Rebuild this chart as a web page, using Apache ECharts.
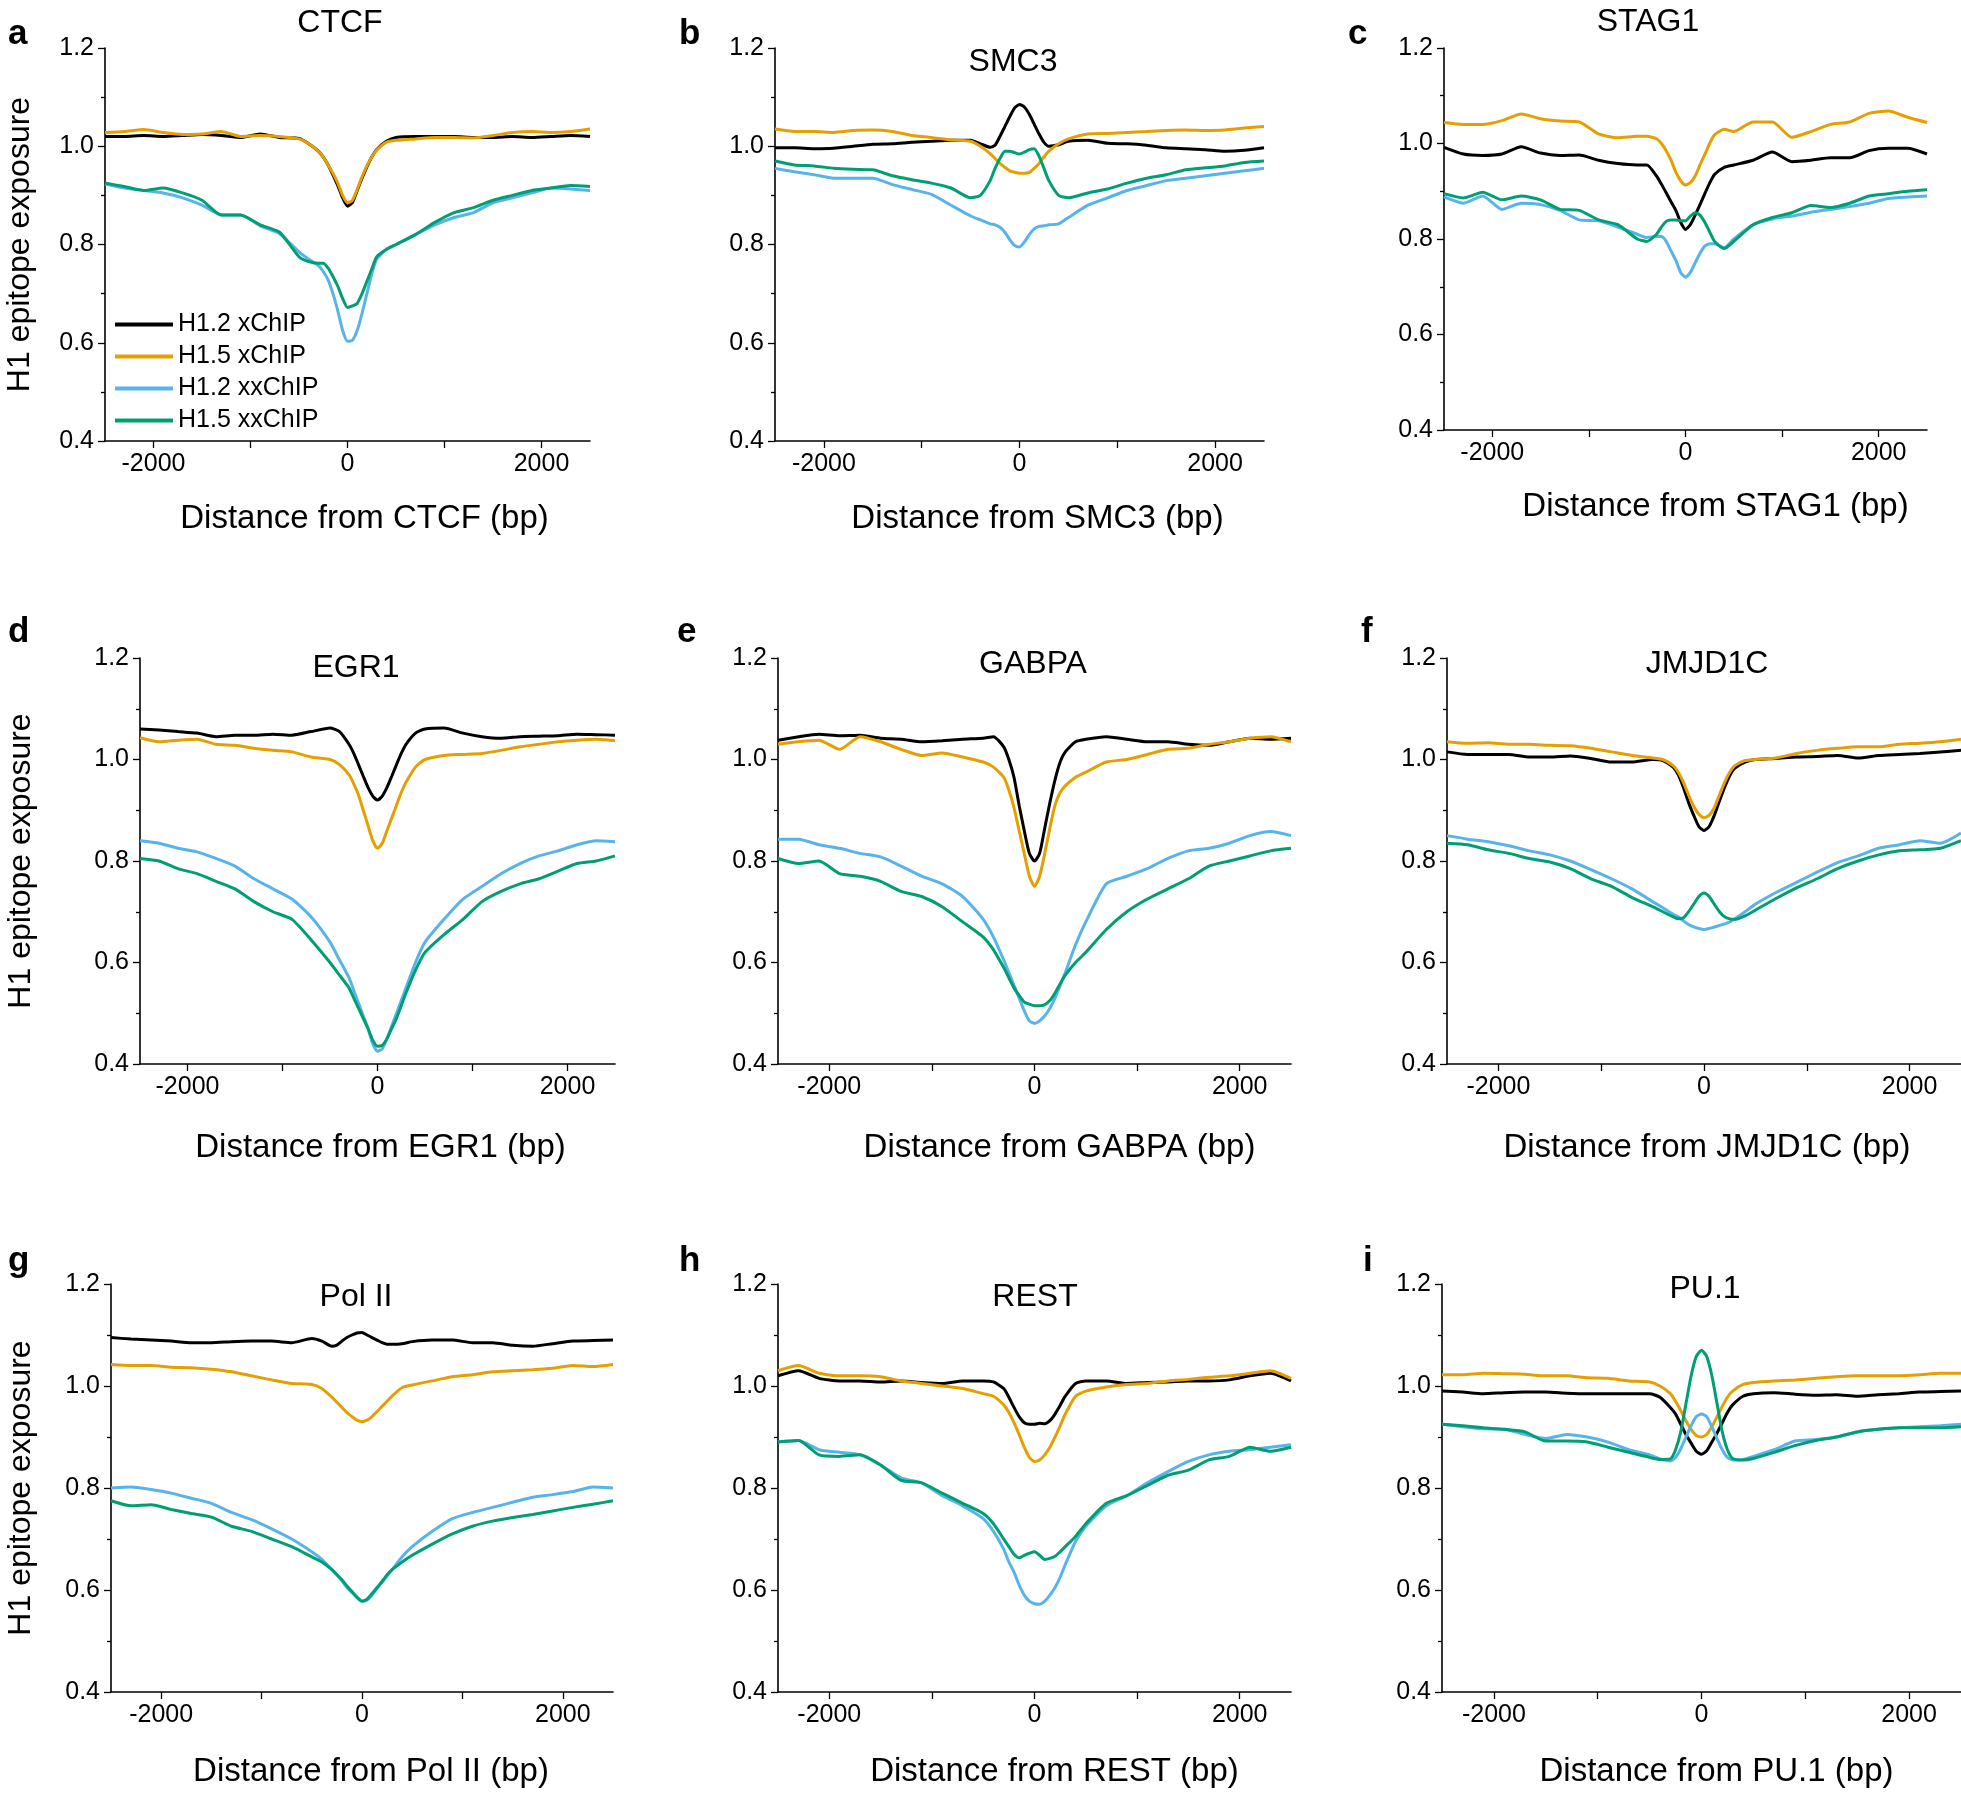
<!DOCTYPE html>
<html><head><meta charset="utf-8">
<script src="https://cdn.jsdelivr.net/npm/echarts@6/dist/echarts.min.js"></script>
<style>html,body{margin:0;padding:0;background:#fff}#c{width:1961px;height:1795px}</style>
</head><body><div id="c"></div>
<script>
// ---------- DATA ----------
const distance = [-2500,-2300,-2100,-1900,-1700,-1500,-1300,-1100,-900,-700,-500,-400,-300,-250,-200,-150,-100,-50,0,50,100,150,200,250,300,400,500,700,900,1100,1300,1500,1700,1900,2100,2300,2500];
const seriesNames = ['H1.2 xChIP','H1.5 xChIP','H1.2 xxChIP','H1.5 xxChIP'];
const xTickLabels = [-2000, 0, 2000];
const xTickMarks = [-2000, -1000, 0, 1000, 2000];
const factors = ['CTCF','SMC3','STAG1','EGR1','GABPA','JMJD1C','Pol II','REST','PU.1'];
const panelLetters = ['a','b','c','d','e','f','g','h','i'];

const ctcf_h12x  = [1.020,1.020,1.022,1.020,1.022,1.024,1.022,1.018,1.025,1.018,1.016,1.005,0.990,0.978,0.962,0.942,0.920,0.895,0.878,0.885,0.910,0.935,0.958,0.978,0.993,1.010,1.018,1.020,1.020,1.020,1.018,1.018,1.020,1.018,1.020,1.022,1.020];
const ctcf_h15x  = [1.028,1.030,1.034,1.028,1.024,1.025,1.030,1.020,1.022,1.020,1.015,1.005,0.990,0.978,0.962,0.945,0.925,0.900,0.885,0.890,0.912,0.938,0.960,0.978,0.992,1.008,1.012,1.015,1.018,1.018,1.017,1.022,1.028,1.030,1.028,1.030,1.035];
const ctcf_h12xx = [0.923,0.915,0.910,0.905,0.895,0.880,0.860,0.860,0.838,0.822,0.785,0.770,0.757,0.745,0.728,0.700,0.665,0.625,0.603,0.605,0.625,0.660,0.700,0.740,0.770,0.790,0.800,0.820,0.840,0.855,0.865,0.885,0.895,0.905,0.915,0.913,0.910];
const ctcf_h15xx = [0.925,0.918,0.910,0.915,0.905,0.890,0.860,0.860,0.840,0.825,0.775,0.765,0.762,0.762,0.752,0.735,0.715,0.690,0.672,0.675,0.680,0.700,0.725,0.750,0.775,0.790,0.800,0.820,0.845,0.865,0.875,0.890,0.900,0.910,0.915,0.920,0.918];

const smc3_h12x  = [0.997,0.997,0.995,0.996,1.000,1.004,1.005,1.008,1.010,1.012,1.012,1.005,0.998,1.002,1.020,1.040,1.060,1.078,1.085,1.080,1.065,1.045,1.025,1.008,1.000,1.003,1.010,1.012,1.006,1.005,1.002,0.997,0.995,0.993,0.990,0.992,0.997];
const smc3_h15x  = [1.035,1.030,1.030,1.028,1.032,1.033,1.030,1.022,1.018,1.013,1.010,1.000,0.985,0.975,0.965,0.957,0.950,0.947,0.945,0.945,0.947,0.955,0.965,0.978,0.990,1.005,1.015,1.025,1.026,1.028,1.030,1.032,1.033,1.032,1.033,1.037,1.040];
const smc3_h12xx = [0.955,0.948,0.942,0.935,0.935,0.935,0.922,0.912,0.902,0.880,0.858,0.850,0.842,0.840,0.835,0.825,0.810,0.798,0.795,0.805,0.820,0.832,0.837,0.838,0.840,0.842,0.855,0.880,0.895,0.910,0.920,0.930,0.935,0.940,0.945,0.950,0.955];
const smc3_h15xx = [0.970,0.962,0.960,0.955,0.953,0.952,0.940,0.932,0.925,0.915,0.895,0.900,0.930,0.955,0.975,0.990,0.990,0.987,0.984,0.988,0.993,0.995,0.980,0.955,0.930,0.900,0.895,0.905,0.913,0.925,0.935,0.942,0.952,0.956,0.960,0.967,0.970];

const stag1_h12x  = [0.992,0.978,0.975,0.978,0.993,0.980,0.975,0.976,0.965,0.958,0.955,0.955,0.932,0.915,0.897,0.878,0.860,0.835,0.820,0.830,0.850,0.872,0.895,0.917,0.935,0.950,0.955,0.965,0.982,0.962,0.965,0.970,0.970,0.985,0.990,0.990,0.978];
const stag1_h15x  = [1.044,1.040,1.040,1.048,1.062,1.052,1.047,1.045,1.020,1.012,1.015,1.015,1.010,1.000,0.985,0.965,0.940,0.922,0.913,0.918,0.932,0.955,0.977,1.000,1.018,1.030,1.025,1.045,1.045,1.013,1.025,1.040,1.045,1.063,1.068,1.055,1.044];
const stag1_h12xx = [0.888,0.875,0.890,0.862,0.875,0.872,0.860,0.840,0.838,0.825,0.810,0.803,0.805,0.805,0.795,0.775,0.755,0.730,0.720,0.730,0.750,0.770,0.785,0.790,0.790,0.782,0.800,0.830,0.842,0.848,0.856,0.862,0.868,0.875,0.885,0.888,0.890];
const stag1_h15xx = [0.895,0.886,0.898,0.882,0.890,0.882,0.862,0.860,0.840,0.830,0.800,0.795,0.810,0.825,0.837,0.840,0.840,0.838,0.838,0.848,0.855,0.850,0.835,0.815,0.795,0.780,0.795,0.830,0.845,0.855,0.870,0.866,0.875,0.890,0.895,0.900,0.903];

const egr1_h12x  = [1.060,1.058,1.055,1.052,1.045,1.048,1.048,1.050,1.048,1.055,1.062,1.055,1.030,1.012,0.990,0.967,0.945,0.928,0.920,0.928,0.945,0.967,0.990,1.012,1.030,1.052,1.060,1.062,1.052,1.045,1.042,1.045,1.046,1.047,1.050,1.049,1.048];
const egr1_h15x  = [1.043,1.035,1.038,1.040,1.030,1.028,1.022,1.018,1.015,1.005,1.000,0.990,0.970,0.952,0.930,0.900,0.870,0.840,0.825,0.835,0.860,0.885,0.910,0.935,0.955,0.985,1.000,1.008,1.010,1.012,1.018,1.025,1.030,1.035,1.038,1.040,1.037];
const egr1_h12xx = [0.840,0.835,0.825,0.818,0.805,0.790,0.765,0.745,0.725,0.690,0.640,0.605,0.570,0.545,0.520,0.495,0.470,0.440,0.425,0.430,0.450,0.475,0.500,0.525,0.550,0.600,0.640,0.685,0.725,0.750,0.775,0.795,0.810,0.820,0.832,0.840,0.838];
const egr1_h15xx = [0.805,0.800,0.785,0.775,0.760,0.745,0.720,0.700,0.685,0.645,0.600,0.575,0.550,0.530,0.510,0.490,0.470,0.447,0.435,0.437,0.450,0.470,0.490,0.515,0.540,0.585,0.620,0.655,0.685,0.720,0.740,0.755,0.765,0.780,0.795,0.800,0.810];

const gabpa_h12x  = [1.038,1.045,1.050,1.047,1.048,1.042,1.040,1.035,1.037,1.040,1.042,1.045,1.025,1.000,0.965,0.910,0.860,0.815,0.800,0.815,0.865,0.915,0.960,0.995,1.015,1.035,1.040,1.045,1.040,1.035,1.035,1.030,1.028,1.035,1.042,1.040,1.042];
const gabpa_h15x  = [1.030,1.035,1.038,1.020,1.045,1.035,1.020,1.008,1.013,1.005,0.995,0.985,0.965,0.940,0.905,0.860,0.815,0.770,0.750,0.770,0.815,0.865,0.910,0.935,0.948,0.965,0.975,0.995,1.000,1.010,1.020,1.022,1.030,1.035,1.042,1.045,1.035];
const gabpa_h12xx = [0.843,0.843,0.832,0.825,0.815,0.808,0.790,0.770,0.755,0.730,0.685,0.650,0.605,0.580,0.555,0.530,0.505,0.485,0.480,0.485,0.495,0.510,0.530,0.555,0.580,0.635,0.680,0.755,0.770,0.785,0.805,0.820,0.825,0.835,0.850,0.858,0.850];
const gabpa_h15xx = [0.805,0.795,0.800,0.775,0.770,0.760,0.740,0.730,0.710,0.680,0.650,0.625,0.590,0.570,0.550,0.535,0.522,0.518,0.515,0.515,0.517,0.525,0.540,0.558,0.575,0.600,0.620,0.665,0.700,0.725,0.745,0.765,0.790,0.800,0.810,0.820,0.825];

const jmjd1c_h12x  = [1.015,1.010,1.010,1.010,1.005,1.005,1.007,1.002,0.995,0.995,1.000,0.998,0.985,0.970,0.945,0.915,0.890,0.868,0.860,0.868,0.890,0.918,0.945,0.968,0.983,0.995,1.000,1.002,1.005,1.006,1.008,1.003,1.008,1.010,1.012,1.015,1.018];
const jmjd1c_h15x  = [1.035,1.032,1.033,1.030,1.030,1.028,1.027,1.022,1.015,1.008,1.003,1.000,0.988,0.975,0.955,0.930,0.908,0.892,0.885,0.890,0.905,0.930,0.955,0.975,0.988,0.998,1.000,1.003,1.012,1.018,1.022,1.025,1.025,1.030,1.032,1.035,1.040];
const jmjd1c_h12xx = [0.850,0.843,0.838,0.830,0.820,0.812,0.800,0.783,0.765,0.745,0.720,0.708,0.695,0.690,0.682,0.675,0.670,0.667,0.665,0.667,0.670,0.673,0.676,0.680,0.686,0.700,0.715,0.738,0.758,0.778,0.797,0.810,0.825,0.832,0.840,0.835,0.855];
const jmjd1c_h15xx = [0.835,0.832,0.822,0.815,0.805,0.798,0.785,0.765,0.750,0.728,0.710,0.700,0.690,0.686,0.688,0.700,0.715,0.730,0.737,0.730,0.715,0.700,0.690,0.686,0.685,0.692,0.703,0.726,0.747,0.765,0.785,0.800,0.812,0.820,0.822,0.825,0.840];

const pol2_h12x  = [1.095,1.092,1.090,1.088,1.085,1.085,1.087,1.088,1.088,1.085,1.093,1.088,1.078,1.080,1.088,1.095,1.100,1.104,1.105,1.100,1.095,1.090,1.085,1.082,1.082,1.083,1.087,1.090,1.090,1.085,1.085,1.080,1.078,1.083,1.088,1.089,1.090];
const pol2_h15x  = [1.042,1.040,1.040,1.037,1.036,1.033,1.028,1.020,1.012,1.005,1.003,0.995,0.978,0.968,0.958,0.948,0.940,0.933,0.930,0.933,0.940,0.950,0.960,0.970,0.980,0.997,1.002,1.010,1.018,1.022,1.028,1.030,1.032,1.035,1.040,1.038,1.042];
const pol2_h12xx = [0.800,0.802,0.797,0.790,0.780,0.770,0.752,0.738,0.720,0.700,0.675,0.660,0.640,0.630,0.618,0.605,0.595,0.585,0.578,0.580,0.590,0.603,0.615,0.628,0.640,0.665,0.685,0.715,0.740,0.752,0.762,0.772,0.782,0.787,0.793,0.802,0.800];
const pol2_h15xx = [0.775,0.765,0.767,0.758,0.750,0.743,0.725,0.715,0.700,0.685,0.665,0.655,0.640,0.630,0.620,0.608,0.597,0.586,0.578,0.582,0.593,0.605,0.617,0.630,0.640,0.655,0.668,0.690,0.710,0.725,0.735,0.742,0.748,0.755,0.762,0.768,0.775];

const rest_h12x  = [1.020,1.030,1.015,1.010,1.010,1.008,1.010,1.007,1.005,1.010,1.010,1.008,0.995,0.978,0.958,0.940,0.928,0.925,0.925,0.927,0.926,0.932,0.945,0.962,0.980,1.005,1.010,1.010,1.005,1.007,1.008,1.010,1.010,1.012,1.020,1.025,1.010];
const rest_h15x  = [1.030,1.040,1.025,1.020,1.020,1.018,1.010,1.005,1.000,0.995,0.985,0.980,0.963,0.948,0.928,0.905,0.880,0.860,0.852,0.855,0.865,0.880,0.900,0.922,0.945,0.980,0.990,0.998,1.003,1.005,1.010,1.013,1.017,1.020,1.025,1.030,1.015];
const rest_h12xx = [0.890,0.893,0.875,0.870,0.865,0.845,0.820,0.810,0.785,0.765,0.740,0.715,0.680,0.655,0.635,0.610,0.590,0.578,0.573,0.572,0.578,0.590,0.605,0.625,0.650,0.695,0.725,0.765,0.785,0.810,0.832,0.852,0.865,0.872,0.875,0.880,0.885];
const rest_h15xx = [0.890,0.893,0.865,0.862,0.865,0.845,0.815,0.810,0.790,0.770,0.750,0.730,0.700,0.685,0.670,0.663,0.668,0.672,0.675,0.668,0.660,0.662,0.666,0.675,0.685,0.705,0.730,0.770,0.785,0.805,0.825,0.835,0.855,0.862,0.880,0.872,0.880];

const pu1_h12x  = [0.990,0.988,0.985,0.987,0.988,0.988,0.986,0.985,0.985,0.985,0.985,0.978,0.958,0.945,0.925,0.905,0.888,0.872,0.866,0.873,0.890,0.908,0.928,0.948,0.963,0.980,0.985,0.987,0.984,0.982,0.983,0.980,0.983,0.985,0.988,0.989,0.990];
const pu1_h15x  = [1.022,1.022,1.025,1.024,1.023,1.020,1.020,1.016,1.015,1.010,1.008,1.000,0.985,0.970,0.952,0.932,0.915,0.903,0.900,0.905,0.920,0.940,0.960,0.978,0.990,1.003,1.007,1.010,1.012,1.015,1.018,1.020,1.020,1.020,1.022,1.025,1.025];
const pu1_h12xx = [0.925,0.920,0.916,0.915,0.905,0.897,0.905,0.900,0.890,0.875,0.865,0.857,0.853,0.860,0.877,0.900,0.922,0.940,0.945,0.940,0.920,0.897,0.875,0.860,0.855,0.856,0.862,0.875,0.892,0.895,0.900,0.910,0.915,0.918,0.920,0.922,0.925];
const pu1_h15xx = [0.925,0.922,0.918,0.915,0.910,0.892,0.892,0.890,0.880,0.870,0.860,0.856,0.857,0.875,0.910,0.965,1.020,1.058,1.070,1.058,1.020,0.965,0.910,0.875,0.858,0.855,0.858,0.870,0.883,0.893,0.900,0.910,0.915,0.918,0.918,0.918,0.920];

const panelSeries = [
  [ctcf_h12x, ctcf_h15x, ctcf_h12xx, ctcf_h15xx],
  [smc3_h12x, smc3_h15x, smc3_h12xx, smc3_h15xx],
  [stag1_h12x, stag1_h15x, stag1_h12xx, stag1_h15xx],
  [egr1_h12x, egr1_h15x, egr1_h12xx, egr1_h15xx],
  [gabpa_h12x, gabpa_h15x, gabpa_h12xx, gabpa_h15xx],
  [jmjd1c_h12x, jmjd1c_h15x, jmjd1c_h12xx, jmjd1c_h15xx],
  [pol2_h12x, pol2_h15x, pol2_h12xx, pol2_h15xx],
  [rest_h12x, rest_h15x, rest_h12xx, rest_h15xx],
  [pu1_h12x, pu1_h15x, pu1_h12xx, pu1_h15xx]
];

// ---------- STYLE / LAYOUT ----------
const colors = ['#000000','#E69F00','#56B4E9','#009E73'];
const FONT = 'Liberation Sans, Arial, sans-serif';
const layout = [
  {left:105, top:48,   width:485, height:393, nameGap:61, namePad:34, yName:69,  titleX:340,  titleTop:7,    letterX:8,    letterTop:17},
  {left:775, top:48,   width:489, height:393, nameGap:61, namePad:36, yName:null,titleX:1013, titleTop:46,   letterX:679,  letterTop:17},
  {left:1444,top:48,   width:483, height:382, nameGap:60, namePad:60, yName:null,titleX:1648, titleTop:6,    letterX:1348, letterTop:17},
  {left:140, top:658,  width:475, height:406, nameGap:67, namePad:6,  yName:103, titleX:356,  titleTop:652,  letterX:8,    letterTop:615},
  {left:778, top:658,  width:513, height:406, nameGap:67, namePad:50, yName:null,titleX:1033, titleTop:648,  letterX:677,  letterTop:615},
  {left:1447,top:658,  width:514, height:406, nameGap:67, namePad:6,  yName:null,titleX:1707, titleTop:648,  letterX:1361, letterTop:615},
  {left:111, top:1284, width:502, height:408, nameGap:63, namePad:18, yName:74,  titleX:356,  titleTop:1281, letterX:8,    letterTop:1244},
  {left:778, top:1284, width:513, height:408, nameGap:63, namePad:40, yName:null,titleX:1035, titleTop:1281, letterX:679,  letterTop:1244},
  {left:1442,top:1284, width:519, height:408, nameGap:63, namePad:30, yName:null,titleX:1705, titleTop:1273, letterX:1363, letterTop:1244}
];

const grids = [], xAxes = [], yAxes = [], series = [], graphics = [];
layout.forEach((L, i) => {
  grids.push({left:L.left, top:L.top, width:L.width, height:L.height, containLabel:false});
  xAxes.push({
    type:'value', gridIndex:i, min:-2500, max:2500,
    name:'Distance from ' + factors[i] + ' (bp)', nameLocation:'middle', nameGap:L.nameGap,
    nameTextStyle:{fontSize:33, color:'#000', fontFamily:FONT, padding:[0,0,0,L.namePad]},
    axisLine:{show:true, onZero:false, lineStyle:{color:'#000', width:1.6}},
    axisTick:{show:true, inside:false, length:7, customValues:xTickMarks, lineStyle:{color:'#000', width:1.3}},
    axisLabel:{show:true, customValues:xTickLabels, margin:11, fontSize:25, color:'#000', fontFamily:FONT,
               formatter:v => String(Math.round(v))},
    splitLine:{show:false}
  });
  yAxes.push({
    type:'value', gridIndex:i, min:0.4, max:1.2, interval:0.2,
    name: L.yName !== null ? 'H1 epitope exposure' : '', nameLocation:'middle', nameGap: L.yName || 0,
    nameTextStyle:{fontSize:32, color:'#000', fontFamily:FONT},
    axisLine:{show:true, onZero:false, lineStyle:{color:'#000', width:1.6}},
    axisTick:{show:true, inside:false, length:7, lineStyle:{color:'#000', width:1.3}},
    minorTick:{show:true, splitNumber:2, length:4, lineStyle:{color:'#000', width:1.3}},
    axisLabel:{margin:11, fontSize:25, color:'#000', fontFamily:FONT, formatter:v => v.toFixed(1)},
    splitLine:{show:false}
  });
  panelSeries[i].forEach((vals, k) => {
    series.push({
      type:'line', name:seriesNames[k], xAxisIndex:i, yAxisIndex:i,
      data: distance.map((d, j) => [d, vals[j]]),
      showSymbol:false, symbol:'none', smooth:0.2,
      lineStyle:{color:colors[k], width:3}, itemStyle:{color:colors[k]},
      silent:true, animation:false, z:2+k
    });
  });
  graphics.push({type:'text', x:L.titleX, y:L.titleTop,
    style:{text:factors[i], fontSize:32, fontFamily:FONT, fill:'#000', textAlign:'center', textVerticalAlign:'top'}});
  graphics.push({type:'text', x:L.letterX, y:L.letterTop,
    style:{text:panelLetters[i], fontSize:35, fontWeight:'bold', fontFamily:FONT, fill:'#000', textAlign:'left', textVerticalAlign:'top'}});
});

const chart = echarts.init(document.getElementById('c'), null, {renderer:'canvas'});
chart.setOption({
  backgroundColor:'#ffffff',
  animation:false,
  color:colors,
  textStyle:{fontFamily:FONT},
  grid:grids, xAxis:xAxes, yAxis:yAxes, series:series,
  legend:{
    show:true, orient:'vertical', left:110, top:307,
    data:seriesNames, icon:'rect', itemWidth:58, itemHeight:4, itemGap:7,
    textStyle:{fontSize:25, color:'#000', fontFamily:FONT, padding:[0,0,0,0]},
    selectedMode:false
  },
  graphic:graphics
});
</script>
</body></html>
